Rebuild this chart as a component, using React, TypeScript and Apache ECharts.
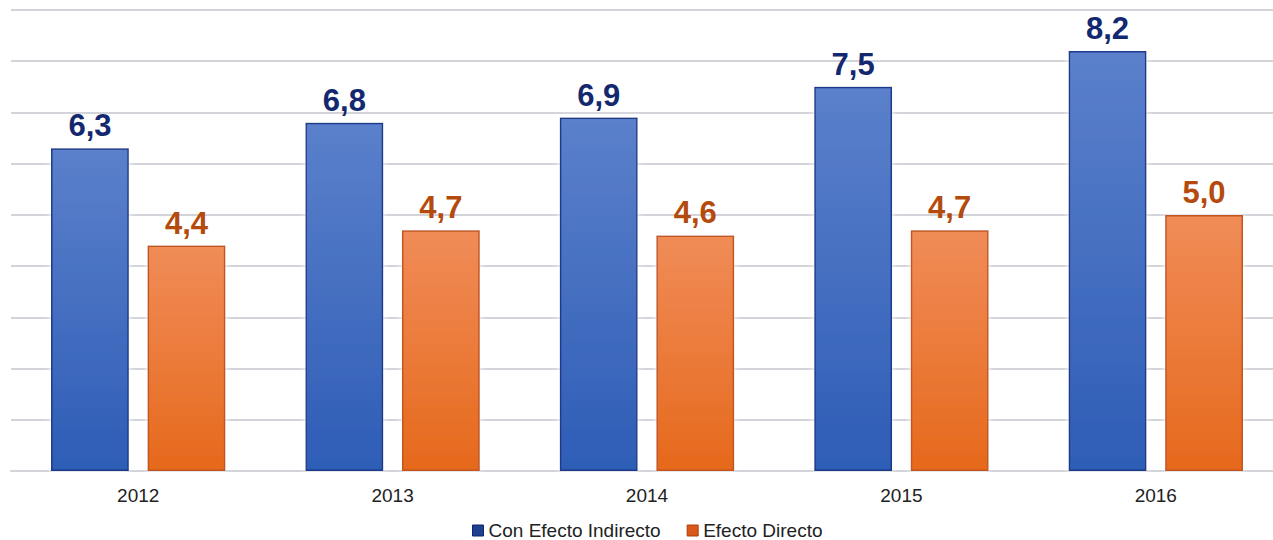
import React, { useEffect, useRef } from "react";
import * as echarts from "echarts";

const categories = ["2012", "2013", "2014", "2015", "2016"];
const indirecto = [6.3, 6.8, 6.9, 7.5, 8.2];
const directo = [4.4, 4.7, 4.6, 4.7, 5.0];
const seriesNames = ["Con Efecto Indirecto", "Efecto Directo"];

const fmt = (v: number) => v.toFixed(1).replace(".", ",");

export default function App() {
  const ref = useRef<HTMLDivElement>(null);
  useEffect(() => {
    if (!ref.current) return;
    const chart = echarts.init(ref.current, undefined, { renderer: "svg" });
    const blueGrad = new echarts.graphic.LinearGradient(0, 0, 0, 1, [
      { offset: 0, color: "#5b80cb" },
      { offset: 1, color: "#2e5db6" },
    ]);
    const orangeGrad = new echarts.graphic.LinearGradient(0, 0, 0, 1, [
      { offset: 0, color: "#f08c58" },
      { offset: 1, color: "#e6691c" },
    ]);
    const font = "Liberation Sans, Arial, sans-serif";
    chart.setOption({
      animation: false,
      backgroundColor: "#ffffff",
      textStyle: { fontFamily: font },
      grid: { left: 11, width: 1272, top: 10, height: 461, containLabel: false },
      legend: {
        top: 516,
        left: 467,
        itemWidth: 11,
        itemHeight: 11,
        itemGap: 26,
        icon: "rect",
        textStyle: { fontSize: 19, color: "#222222", fontFamily: font },
        data: [
          { name: seriesNames[0], itemStyle: { color: "#1f3f8f", borderColor: "#0f2570", borderWidth: 1 } },
          { name: seriesNames[1], itemStyle: { color: "#d9581a", borderColor: "#a8400c", borderWidth: 1 } },
        ],
      },
      xAxis: {
        type: "category",
        data: categories,
        axisLine: { show: true, lineStyle: { color: "#d3d3da", width: 2 } },
        axisTick: { show: false },
        axisLabel: { fontSize: 19, color: "#222222", margin: 15 },
      },
      yAxis: {
        type: "value",
        min: 0,
        max: 9,
        interval: 1,
        axisLabel: { show: false },
        axisLine: { show: false },
        axisTick: { show: false },
        splitLine: { lineStyle: { color: "#d3d3da", width: 2 } },
      },
      series: [
        {
          name: seriesNames[0],
          type: "bar",
          data: indirecto,
          barWidth: "30.6%",
          barGap: "24%",
          itemStyle: {
            color: blueGrad,
            borderColor: "#1b3a8a",
            borderWidth: 1.5,
            shadowColor: "#ffffff",
            shadowBlur: 6,
          },
          label: {
            show: true,
            position: "top",
            distance: 7,
            formatter: (p: any) => fmt(p.value),
            fontSize: 31,
            fontWeight: "bold",
            color: "#13286e",
          },
        },
        {
          name: seriesNames[1],
          type: "bar",
          data: directo,
          barWidth: "30.6%",
          itemStyle: {
            color: orangeGrad,
            borderColor: "#c2561a",
            borderWidth: 1.5,
            shadowColor: "#ffffff",
            shadowBlur: 6,
          },
          label: {
            show: true,
            position: "top",
            distance: 7,
            formatter: (p: any) => fmt(p.value),
            fontSize: 31,
            fontWeight: "bold",
            color: "#b44a0c",
          },
        },
      ],
    });
    return () => chart.dispose();
  }, []);
  return (
    <div
      style={{ position: "absolute", left: 0, top: 0, width: 1273, height: 540, overflow: "hidden" }}
    >
      <div ref={ref} style={{ width: 1290, height: 540 }} />
    </div>
  );
}
